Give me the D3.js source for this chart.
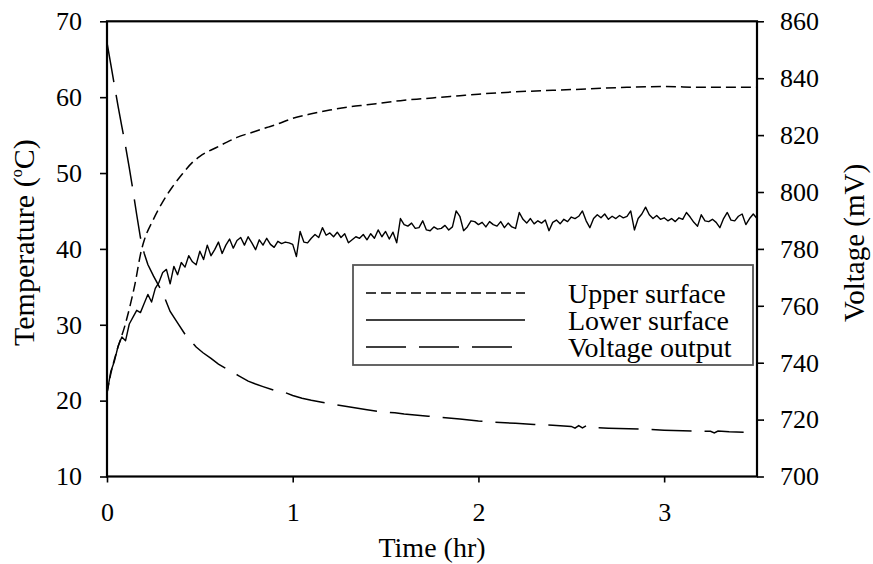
<!DOCTYPE html>
<html>
<head>
<meta charset="utf-8">
<script src="https://cdn.jsdelivr.net/npm/d3@7/dist/d3.min.js"></script>
</head>
<body style="margin:0">
<svg id="chart" width="873" height="564"></svg>
<script>
// ---- data ----------------------------------------------------------------
const timeTicks = [0, 1, 2, 3];
const tempTicks = [10, 20, 30, 40, 50, 60, 70];
const voltTicks = [700, 720, 740, 760, 780, 800, 820, 840, 860];

// Upper surface temperature (deg C)
const upperTime = [0, 0.02, 0.05, 0.1, 0.15, 0.186, 0.2, 0.25, 0.3, 0.35, 0.4, 0.46, 0.5, 0.6, 0.64, 0.7, 0.8, 0.86, 0.9,
  1.0, 1.1, 1.2, 1.3, 1.4, 1.5, 1.6, 1.7, 1.8, 1.9, 2.0, 2.2, 2.4, 2.6, 2.8, 3.0, 3.2, 3.4, 3.5];
const upperTemp = [21, 23.5, 26.3, 30.2, 35.3, 39.9, 41.1, 43.9, 46.2, 48.1, 49.7, 51.4, 52.2, 53.5, 54.0, 54.7, 55.5, 56.0, 56.3,
  57.2, 57.8, 58.3, 58.7, 59.0, 59.3, 59.6, 59.8, 60.0, 60.2, 60.4, 60.7, 60.9, 61.1, 61.3, 61.4, 61.3, 61.3, 61.3];

// Lower surface temperature (deg C), logged every 0.02 hr
const lowerStep = 0.02;
const lowerTemp = [
  21.0, 23.8, 25.2, 27.2, 28.4, 27.9, 30.1, 31.0, 31.9, 31.6,
  32.8, 34.0, 33.0, 34.8, 35.6, 36.9, 37.3, 35.4, 37.7, 36.6,
  38.2, 37.6, 39.1, 38.3, 37.9, 39.7, 38.6, 40.5, 39.1, 39.9,
  40.9, 39.4, 40.5, 41.3, 40.1, 41.1, 41.5, 40.5, 41.6, 40.8,
  39.9, 41.2, 40.5, 41.4, 40.6, 40.2, 41.0, 40.7, 40.9, 40.8,
  40.6, 39.0, 42.3, 40.9, 40.8, 41.4, 41.9, 41.5, 42.8, 41.8,
  42.1, 41.6, 42.2, 41.5, 42.0, 40.8, 41.2, 41.6, 41.4, 41.9,
  41.2, 42.0, 41.4, 42.5, 41.6, 42.3, 41.3, 42.2, 40.8, 44.0,
  43.2, 43.0, 43.4, 42.7, 42.8, 43.7, 42.5, 42.4, 42.9, 42.6,
  42.7, 43.1, 42.5, 42.9, 45.0, 44.3, 42.4, 42.9, 43.7, 43.6,
  43.2, 43.5, 42.9, 43.6, 43.2, 43.0, 43.6, 42.8, 43.4, 42.9,
  42.7, 44.8, 43.9, 43.4, 44.0, 43.3, 43.7, 43.4, 43.8, 42.4,
  43.5, 43.8, 43.3, 43.9, 43.6, 44.2, 44.0, 44.3, 45.0, 43.7,
  42.8, 44.0, 44.5, 44.1, 44.6, 43.9, 44.3, 44.0, 44.4, 44.1,
  44.3, 45.0, 42.5, 44.0, 44.6, 45.5, 44.5, 44.0, 44.4, 43.9,
  44.1, 43.7, 44.0, 43.6, 44.1, 43.9, 44.8, 44.2, 43.5, 43.0,
  44.5, 43.7, 43.6, 43.9, 43.5, 42.8, 44.0, 44.8, 43.8, 43.7,
  44.3, 44.6, 43.2, 44.0, 44.6, 44.0
];

// Voltage output (mV)
const voltTime = [0, 0.02, 0.04, 0.06, 0.08, 0.10, 0.12, 0.14, 0.16, 0.18, 0.20, 0.22, 0.25, 0.30, 0.34, 0.38, 0.42, 0.446,
  0.48, 0.517, 0.56, 0.60, 0.64, 0.68, 0.71, 0.76, 0.80, 0.84, 0.90, 0.96, 1.0, 1.05, 1.1, 1.15, 1.2, 1.3, 1.4, 1.47,
  1.55, 1.6, 1.73, 1.8, 1.9, 2.0, 2.06, 2.2, 2.3, 2.4, 2.5, 2.52, 2.54, 2.56, 2.58, 2.6, 2.7, 2.81, 2.9, 3.0, 3.1,
  3.25, 3.27, 3.29, 3.35, 3.5];
const voltage = [852.5, 845, 837.5, 830, 823, 816, 808.5, 800.5, 792, 784, 778.5, 774.5, 770.5, 764.5, 758, 754, 750, 748,
  745.5, 743.5, 741.5, 739.5, 738, 736.5, 735.4, 733.5, 732.5, 731.6, 730.3, 729.5, 728.5, 727.5, 726.8, 726.2, 725.5, 724.5, 723.5, 722.8,
  722.4, 722.0, 721.2, 720.8, 720.2, 719.5, 719.2, 718.7, 718.3, 718.0, 717.6, 717.0, 717.9, 717.1, 717.8, 717.2, 717.0, 716.8, 716.6, 716.3, 716.1,
  715.9, 715.3, 716.0, 715.7, 715.5];

const legendLabels = ["Upper surface", "Lower surface", "Voltage output"];
const legendDashes = ["10,5", null, "40,13"];

// ---- layout --------------------------------------------------------------
const svg = d3.select("#chart");
const plot = { left: 107, right: 757, top: 21.3, bottom: 476.5 };
const fontName = "Liberation Serif";
const fam = `"${fontName}", monospace`;

const x = d3.scaleLinear().domain([0, 3.5]).range([plot.left, plot.right]);
const yT = d3.scaleLinear().domain([10, 70]).range([plot.bottom, plot.top]);
const yV = d3.scaleLinear().domain([700, 860]).range([plot.bottom, plot.top]);

// axes
const axL = svg.append("g").attr("transform", `translate(${plot.left},0)`)
  .call(d3.axisLeft(yT).tickValues(tempTicks).tickSize(7).tickSizeOuter(0).tickPadding(18));
const axR = svg.append("g").attr("transform", `translate(${plot.right},0)`)
  .call(d3.axisRight(yV).tickValues(voltTicks).tickSize(7).tickSizeOuter(0).tickPadding(16));
const axB = svg.append("g").attr("transform", `translate(0,${plot.bottom})`)
  .call(d3.axisBottom(x).tickValues(timeTicks).tickFormat(d3.format("d")).tickSize(6).tickSizeOuter(0).tickPadding(20));

[axL, axR, axB].forEach(g => {
  g.attr("font-family", fam).attr("font-size", 26);
  g.select(".domain").remove();
  g.selectAll(".tick line").attr("stroke", "#000").attr("stroke-width", 1.6);
  g.selectAll(".tick text").attr("fill", "#000");
});

// plot frame
svg.append("rect")
  .attr("x", plot.left).attr("y", plot.top)
  .attr("width", plot.right - plot.left).attr("height", plot.bottom - plot.top)
  .attr("fill", "none").attr("stroke", "#000").attr("stroke-width", 2.2);

// ---- series --------------------------------------------------------------
const lineT = d3.line().x(d => x(d[0])).y(d => yT(d[1]));
const lineV = d3.line().x(d => x(d[0])).y(d => yV(d[1]));

const upperPts = upperTime.map((t, i) => [t, upperTemp[i]]);
const lowerPts = lowerTemp.map((v, i) => [i * lowerStep, v]);
const voltPts = voltTime.map((t, i) => [t, voltage[i]]);

svg.append("path").attr("d", d3.line().x(d => x(d[0])).y(d => yT(d[1])).curve(d3.curveMonotoneX)(upperPts))
  .attr("fill", "none").attr("stroke", "#000").attr("stroke-width", 1.5)
  .attr("stroke-dasharray", legendDashes[0]);

svg.append("path").attr("d", lineT(lowerPts))
  .attr("fill", "none").attr("stroke", "#000").attr("stroke-width", 1.4)
  .attr("stroke-linejoin", "round");

svg.append("path").attr("d", lineV(voltPts))
  .attr("fill", "none").attr("stroke", "#000").attr("stroke-width", 1.5)
  .attr("stroke-dasharray", legendDashes[2]);

// ---- legend --------------------------------------------------------------
const lg = svg.append("g");
lg.append("rect").attr("x", 353).attr("y", 265).attr("width", 400).attr("height", 100)
  .attr("fill", "#fff").attr("stroke", "#555").attr("stroke-width", 1.8);

legendLabels.forEach((label, i) => {
  const yy = 293 + i * 27;
  lg.append("line").attr("x1", 366).attr("x2", 525).attr("y1", yy).attr("y2", yy)
    .attr("stroke", "#000").attr("stroke-width", 1.5)
    .attr("stroke-dasharray", legendDashes[i]);
  lg.append("text").attr("x", 568).attr("y", yy + 10)
    .attr("font-family", fam).attr("font-size", 28).attr("fill", "#000").text(label);
});

// ---- axis titles ---------------------------------------------------------
svg.append("text").attr("x", (plot.left + plot.right) / 2).attr("y", 557)
  .attr("font-family", fam).attr("font-size", 28)
  .attr("text-anchor", "middle").text("Time (hr)");

const tl = svg.append("text")
  .attr("transform", "translate(34,346) rotate(-90)")
  .attr("font-family", fam).attr("font-size", 30)
  .attr("text-anchor", "start");
tl.append("tspan").text("Temperature (");
tl.append("tspan").attr("font-size", 16).attr("dy", -12).text("o");
tl.append("tspan").attr("dy", 12).text("C)");

svg.append("text")
  .attr("transform", "translate(864,322) rotate(-90)")
  .attr("font-family", fam).attr("font-size", 29)
  .attr("text-anchor", "start").text("Voltage (mV)");
</script>
</body>
</html>
